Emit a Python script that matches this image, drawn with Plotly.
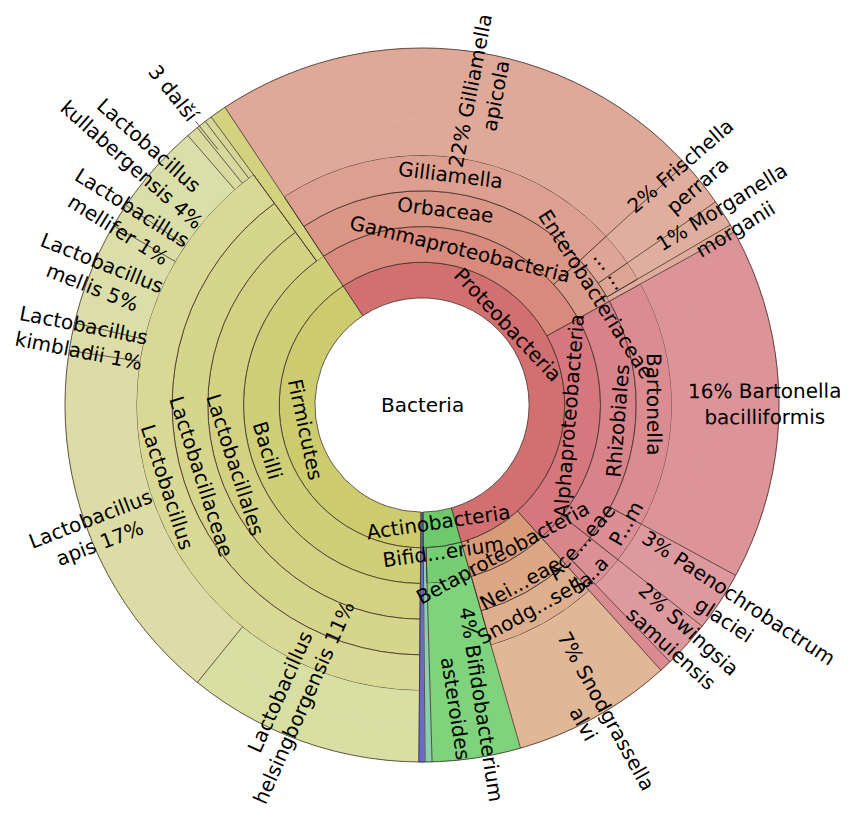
import math
import plotly.graph_objects as go

# ---------------- data ----------------
node_ids = [
    "Bacteria",
    "Proteobacteria", "Gammaproteobacteria", "Orbaceae", "Gilliamella", "Gilliamella apicola",
    "Enterobacteriaceae", "Frischella", "Frischella perrara", "Morganella", "Morganella morganii",
    "Enterobacteriaceae (other)",
    "Alphaproteobacteria", "Rhizobiales", "Bartonella", "Bartonella bacilliformis",
    "Paenochrobactrum", "Paenochrobactrum glaciei",
    "Acetobacteraceae", "Swingsia", "Swingsia samuiensis", "Acetobacteraceae (other)",
    "Betaproteobacteria", "Neisseriaceae", "Snodgrassella", "Snodgrassella alvi",
    "Actinobacteria", "Bifidobacterium", "Bifidobacterium asteroides", "Actinobacteria (other)",
    "Bacteria (other)",
    "Firmicutes", "Bacilli", "Lactobacillales", "Lactobacillaceae", "Lactobacillus",
    "Lactobacillus helsingborgensis", "Lactobacillus apis", "Lactobacillus kimbladii",
    "Lactobacillus mellis", "Lactobacillus mellifer", "Lactobacillus kullabergensis",
    "Lactobacillus sp. 1", "Lactobacillus sp. 2", "Lactobacillus sp. 3",
    "Bacilli (other)",
]
node_parents = [
    "",
    "Bacteria", "Proteobacteria", "Gammaproteobacteria", "Orbaceae", "Gilliamella",
    "Gammaproteobacteria", "Enterobacteriaceae", "Frischella", "Enterobacteriaceae", "Morganella",
    "Enterobacteriaceae",
    "Proteobacteria", "Alphaproteobacteria", "Rhizobiales", "Bartonella",
    "Rhizobiales", "Paenochrobactrum",
    "Alphaproteobacteria", "Acetobacteraceae", "Swingsia", "Acetobacteraceae",
    "Proteobacteria", "Betaproteobacteria", "Neisseriaceae", "Snodgrassella",
    "Bacteria", "Actinobacteria", "Bifidobacterium", "Actinobacteria",
    "Bacteria",
    "Bacteria", "Firmicutes", "Bacilli", "Lactobacillales", "Lactobacillaceae",
    "Lactobacillus", "Lactobacillus", "Lactobacillus",
    "Lactobacillus", "Lactobacillus", "Lactobacillus",
    "Lactobacillus", "Lactobacillus", "Lactobacillus",
    "Bacilli",
]
node_labels = [
    "Bacteria",
    "Proteobacteria", "Gammaproteobacteria", "Orbaceae", "Gilliamella", "22% Gilliamella<br>apicola",
    "Enterobacteriaceae", "...", "2% Frischella<br>perrara", "...", "1% Morganella<br>morganii",
    "",
    "Alphaproteobacteria", "Rhizobiales", "Bartonella", "16% Bartonella<br>bacilliformis",
    "P...m", "3% Paenochrobactrum<br>glaciei",
    "Ace...eae", "S...a", "2% Swingsia<br>samuiensis", "",
    "Betaproteobacteria", "Nei...eae", "Snodg...sella", "7% Snodgrassella<br>alvi",
    "Actinobacteria", "Bifid...erium", "4% Bifidobacterium<br>asteroides", "",
    "",
    "Firmicutes", "Bacilli", "Lactobacillales", "Lactobacillaceae", "Lactobacillus",
    "Lactobacillus<br>helsingborgensis 11%", "Lactobacillus<br>apis 17%", "Lactobacillus<br>kimbladii 1%",
    "Lactobacillus<br>mellis 5%", "Lactobacillus<br>mellifer 1%", "Lactobacillus<br>kullabergensis 4%",
    "", "", "",
    "",
]
# share of reads (%) for leaves, 0 for inner ranks
node_percent = [
    0,
    0, 0, 0, 0, 22.5,
    0, 0, 2.17, 0, 1.22,
    0.36,
    0, 0, 0, 15.97,
    0, 2.72,
    0, 0, 2.14, 0.55,
    0, 0, 0, 7.22,
    0, 0, 4.0, 0.31,
    0.28,
    0, 0, 0, 0, 0,
    10.69, 16.61, 1.25,
    4.69, 1.06, 4.17,
    0.55, 0.45, 0.33,
    0.75,
]
others_members = ["Lactobacillus sp. 1", "Lactobacillus sp. 2", "Lactobacillus sp. 3"]
others_label = "3 další"

# ---------------- style ----------------
node_colors = [
    "#ffffff",
    "#d27071", "#d98a7c", "#db9786", "#dd9f8f", "#dfa999",
    "#dc9a8b", "#dea495", "#e0ad9e", "#dea595", "#e0ae9f",
    "#dfab9c",
    "#d5777d", "#d88389", "#da8c91", "#dc9498",
    "#db8f95", "#de999e",
    "#d8868a", "#da9094", "#dd9a9e", "#d98c90",
    "#d99a78", "#dca784", "#deaf8e", "#e0b797",
    "#6ec86c", "#76cd74", "#7ed37c", "#8ccfae",
    "#6a6acc",
    "#cccb6d", "#d0cf79", "#d3d283", "#d6d58c", "#d9d894",
    "#d7dfa3", "#dedca6", "#dcdda7",
    "#dbdea8", "#dadda6", "#dadfa9",
    "#d8dba0", "#d7d99c", "#d6d797",
    "#d3d27f",
]
# label placement tweaks (angle clockwise from 12 o'clock, radius in px)
label_angle = {"Proteobacteria": 47.0, "Enterobacteriaceae": 57.5, "Alphaproteobacteria": 94.5,
               "Firmicutes": 258.0, "Gilliamella apicola": 11.0, "Frischella perrara": 49.3,
               "Morganella morganii": 58.6, "Lactobacillus helsingborgensis": 204.0,
               "Betaproteobacteria": 151.5, "Acetobacteraceae": 130.5, "Swingsia": 135.5,
               "Paenochrobactrum": 120.0, "Bifidobacterium": 172.0}
label_radius = {"Betaproteobacteria": 168.0, "Bifid...erium": 148.0, "Enterobacteriaceae": 206.0,
                "Alphaproteobacteria": 147.0, "Proteobacteria": 118.0, "Firmicutes": 119.0,
                "Actinobacteria": 118.0, "Nei...eae": 204.0, "Ace...eae": 210.0,
                "S...a": 238.0, "P...m": 236.0}

WIN_W, WIN_H = 853, 820      # browser window
OFF = 8                      # page body margin around the plot div
W, H = 853, 820              # figure size
CX, CY, R = 422.0, 405.0, 357.0   # centre / radius in window pixels
START_DEG = -33.5            # first slice edge, clockwise from 12 o'clock
N_LEVELS = 10                # root + 2 pad rings + 6 ranks + outer pad
U = R / N_LEVELS
FONT = "DejaVu Sans"
FONT_SIZE = 20
LINE_H = 1.3 * FONT_SIZE
LINE_C = "rgba(60,45,40,0.85)"
LINE_W = 0.9
LEAF_TEXT_R = 285.0
EDGE = 12.0

CW = {' ': 0.318, '%': 0.950, '.': 0.318, 'a': 0.613, 'b': 0.635, 'c': 0.550, 'd': 0.635,
      'e': 0.615, 'f': 0.352, 'g': 0.635, 'h': 0.634, 'i': 0.278, 'j': 0.278, 'k': 0.579,
      'l': 0.278, 'm': 0.974, 'n': 0.634, 'o': 0.612, 'p': 0.635, 'q': 0.635, 'r': 0.411,
      's': 0.521, 't': 0.392, 'u': 0.634, 'v': 0.592, 'w': 0.818, 'x': 0.592, 'y': 0.592,
      'z': 0.525, 'A': 0.684, 'B': 0.686, 'C': 0.698, 'D': 0.770, 'E': 0.632, 'F': 0.575,
      'G': 0.775, 'L': 0.557, 'M': 0.863, 'N': 0.748, 'O': 0.787, 'P': 0.603, 'R': 0.695,
      'S': 0.635, 'T': 0.611, 'š': 0.521, 'í': 0.278}
for d in "0123456789":
    CW[d] = 0.636


def text_w(s):
    return max(sum(CW.get(ch, 0.6) for ch in line) for line in s.split("<br>")) * FONT_SIZE


# ---------------- tree helpers ----------------
idx = {n: i for i, n in enumerate(node_ids)}
children = {n: [] for n in node_ids}
for n, p in zip(node_ids, node_parents):
    if p:
        children[p].append(n)
depth = {}
for n in node_ids:
    k, p = 0, node_parents[idx[n]]
    while p:
        k += 1
        p = node_parents[idx[p]]
    depth[n] = k


def total(n):
    return node_percent[idx[n]] + sum(total(c) for c in children[n])


GRAND = total("Bacteria")
ang = {}


def assign(n, start):
    span = total(n) / GRAND * 360.0
    ang[n] = (start, start + span)
    s = start
    for c in children[n]:
        assign(c, s)
        s += total(c) / GRAND * 360.0


assign("Bacteria", START_DEG)

# ---------------- sunburst arrays ----------------
p_ids, p_par, p_val, p_col, p_lw, p_lc = [], [], [], [], [], []


def add(i, par, v, col, lw, lc):
    p_ids.append(i); p_par.append(par); p_val.append(v)
    p_col.append(col); p_lw.append(lw); p_lc.append(lc)


add("Bacteria", "", 0, "#ffffff", 0, "#ffffff")
add("pad1", "Bacteria", 0, "#ffffff", 1, "#ffffff")
add("pad2", "pad1", 0, "#ffffff", 1, "#ffffff")


def emit(n, par):
    col = node_colors[idx[n]]
    if children[n]:
        add(n, par, 0, col, LINE_W, LINE_C)
        for c in reversed(children[n]):      # plotly lays out counter-clockwise
            emit(c, n)
    else:
        k = depth[n]
        add(n, par, 0, col, 0, col)
        prev = n
        for kk in range(k + 1, 8):
            cid = n + "|" + str(kk)
            add(cid, prev, node_percent[idx[n]] if kk == 7 else 0, col, 1, col)
            prev = cid


for c in reversed(children["Bacteria"]):
    emit(c, "pad2")

FX, FY = CX - OFF, CY - OFF          # centre in figure pixels
dom_x = [(FX - R) / W, (FX + R) / W]
dom_y = [1 - (FY + R) / H, 1 - (FY - R) / H]

fig = go.Figure(go.Sunburst(
    ids=p_ids, labels=p_ids, parents=p_par, values=p_val,
    branchvalues="remainder", sort=False,
    rotation=(90 - START_DEG) % 360,
    marker=dict(colors=p_col, line=dict(color=p_lc, width=p_lw)),
    leaf=dict(opacity=1), textinfo="none", hoverinfo="skip",
    domain=dict(x=dom_x, y=dom_y),
))


# ---------------- labels / lines ----------------
def pt(phi, r):
    a = math.radians(phi)
    return (FX + r * math.sin(a)) / W, 1 - (FY - r * math.cos(a)) / H


def tang(phi):
    t = phi % 360
    if 90 < t < 270:
        return t - 180
    return t if t <= 90 else t - 360


def radial(phi):
    t = phi % 360
    return t - 90 if t < 180 else t - 270


annotations = []


def label(text, phi, r, angle):
    x, y = pt(phi, r)
    annotations.append(dict(text=text, x=x, y=y, xref="paper", yref="paper",
                            showarrow=False, textangle=angle, xanchor="center",
                            yanchor="middle", font=dict(family=FONT, size=FONT_SIZE, color="black")))


def leaf_label(text, phi, r_in):
    L = text_w(text)
    T = LINE_H * (text.count("<br>") + 1)
    a = math.radians(phi)
    s, c = math.sin(a), -math.cos(a)          # outward direction in window pixels
    ex = abs(s) * L / 2 + abs(c) * T / 2      # half extent of rotated block, x
    ey = abs(c) * L / 2 + abs(s) * T / 2      # half extent, y
    rc = r_in + L / 2
    # keep the whole label inside the window, as Krona does
    if s > 1e-6:
        rc = min(rc, (WIN_W - EDGE - ex - CX) / s)
    if s < -1e-6:
        rc = min(rc, (CX - EDGE - ex) / -s)
    if c > 1e-6:
        rc = min(rc, (WIN_H - EDGE - ey - CY) / c)
    if c < -1e-6:
        rc = min(rc, (CY - EDGE - ey) / -c)
    label(text, phi, rc, radial(phi))


for n in node_ids:
    txt = node_labels[idx[n]]
    if not txt:
        continue
    if n == "Bacteria":
        annotations.append(dict(text=txt, x=FX / W, y=1 - FY / H, xref="paper", yref="paper",
                                showarrow=False, font=dict(family=FONT, size=FONT_SIZE, color="black")))
        continue
    a0, a1 = ang[n]
    mid = label_angle.get(n, (a0 + a1) / 2)
    if children[n]:
        label(txt, mid, label_radius.get(txt, label_radius.get(n, (depth[n] + 2.5) * U)), tang(mid))
    else:
        leaf_label(txt, mid, LEAF_TEXT_R)

# grouped small species
g0 = ang[others_members[0]][0]
g1 = ang[others_members[-1]][1]
gm = (g0 + g1) / 2
label(others_label, gm, R + 8 + text_w(others_label) / 2, radial(gm))

shapes = []


def seg(phi, r0, r1):
    x0, y0 = pt(phi, r0)
    x1, y1 = pt(phi, r1)
    shapes.append(dict(type="line", xref="paper", yref="paper", x0=x0, y0=y0, x1=x1, y1=y1,
                       line=dict(color=LINE_C, width=LINE_W), layer="above"))


edges = {}
for n in node_ids:
    if children[n]:
        continue
    r0 = (depth[n] + 2) * U
    for a in ang[n]:
        key = round(a % 360, 3)
        edges[key] = min(edges.get(key, R), r0)
for a, r0 in edges.items():
    seg(a, r0, R)

seg(gm, R - 30, R + 6)

shapes.append(dict(type="circle", xref="paper", yref="paper",
                   x0=dom_x[0], x1=dom_x[1], y0=dom_y[0], y1=dom_y[1],
                   line=dict(color=LINE_C, width=LINE_W), fillcolor="rgba(0,0,0,0)", layer="above"))

fig.update_layout(width=W, height=H, autosize=False,
                  margin=dict(l=0, r=0, t=0, b=0),
                  paper_bgcolor="white", plot_bgcolor="white",
                  showlegend=False, annotations=annotations, shapes=shapes)

fig.write_html("out.html", config={"displayModeBar": False})
